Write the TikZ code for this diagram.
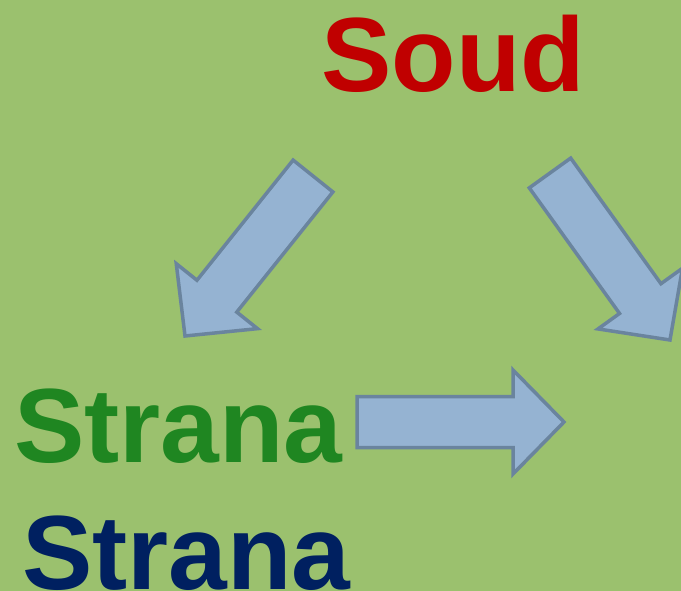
\documentclass[tikz,border=0pt]{standalone}
\usepackage{fontspec}
\setmainfont{Liberation Sans}
\usetikzlibrary{calc}
\definecolor{slidegreen}{RGB}{155,193,110}
\definecolor{soudred}{RGB}{192,0,0}
\definecolor{stranagreen}{RGB}{31,134,33}
\definecolor{stranablue}{RGB}{0,32,96}
\definecolor{arrowfill}{RGB}{149,179,210}
\definecolor{arrowline}{RGB}{106,132,158}
\tikzset{word/.style={anchor=base west,inner sep=0pt,font=\fontsize{105.5}{110}\selectfont\bfseries},
blockarrow/.style={draw=arrowline,fill=arrowfill,line width=3.5pt,line join=miter}}
% block arrow from #1 to #2
\newcommand\blockarrow[2]{%
\draw[blockarrow] let \p1=($(#2)-(#1)$), \n1={atan2(\y1,\x1)}, \n2={veclen(\x1,\y1)} in
[shift={(#1)},rotate=\n1]
(0,-25.5) -- ({\n2-51},-25.5) -- ({\n2-51},-52) -- (\n2,0) -- ({\n2-51},52) -- ({\n2-51},25.5) -- (0,25.5) -- cycle;}

\begin{document}
\begin{tikzpicture}[x=1pt,y=-1pt]
\useasboundingbox (0,0) rectangle (681,591);
\clip (0,0) rectangle (681,591);
\fill[slidegreen] (0,0) rectangle (681,591);
\node[word,text=soudred] (soud) at (321,92) {Soud};
\node[word,text=stranagreen] (strana1) at (14,462) {Strana};
\node[word,text=stranablue] (strana2) at (22,589) {Strana};
\coordinate (ltail) at (313,176);
\coordinate (ltip) at (185,336);
\coordinate (rtail) at (550,173);
\coordinate (rtip) at (670,340);
\coordinate (htail) at (357,422);
\coordinate (htip) at (564,422);
\blockarrow{ltail}{ltip}
\blockarrow{rtail}{rtip}
\blockarrow{htail}{htip}
\end{tikzpicture}
\end{document}
